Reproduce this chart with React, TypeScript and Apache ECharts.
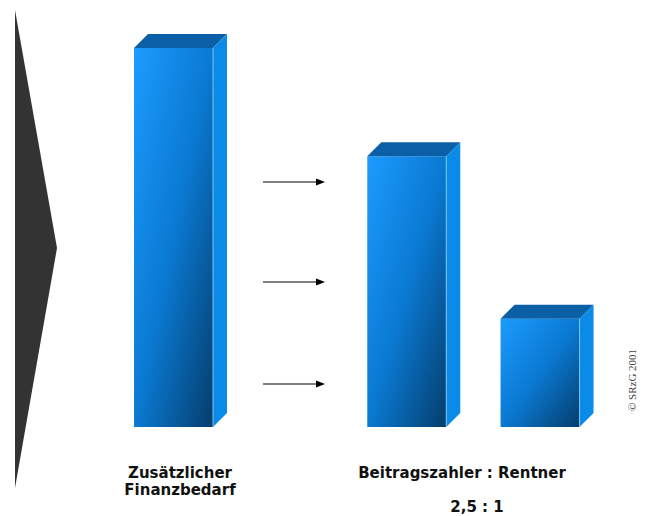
import React, { useEffect, useRef } from "react";
import * as echarts from "echarts";

// ---- data ----
const categories = ["Zusätzlicher Finanzbedarf", "Beitragszahler", "Rentner"];
const values = [3.5, 2.5, 1];
const groupLabel = "Beitragszahler : Rentner";
const ratioLabel = "2,5 : 1";
const copyright = "© SRzG 2001";

// layout slots along hidden x axis (not data)
const slots = [1, 8, 12];

export default function App() {
  const ref = useRef<HTMLDivElement>(null);
  useEffect(() => {
    document.body.style.margin = "0";
    const chart = echarts.init(ref.current!, null, { renderer: "svg" });
    const W = 79, D = 14, DY = 14;
    const arrowYs = [182, 282, 384];
    const arrows: any[] = [];
    arrowYs.forEach((y) => {
      arrows.push({
        type: "line",
        shape: { x1: 263, y1: y, x2: 318, y2: y },
        style: { stroke: "#000", lineWidth: 1 },
      });
      arrows.push({
        type: "polygon",
        shape: { points: [[316, y - 3.5], [325, y], [316, y + 3.5]] },
        style: { fill: "#000" },
      });
    });
    const font = "DejaVu Sans";
    chart.setOption({
      animation: false,
      backgroundColor: "#fff",
      grid: { left: 147.2, right: 39.3, top: 48, bottom: 89 },
      xAxis: { type: "value", min: 0, max: 14, show: false },
      yAxis: { type: "value", min: 0, max: 3.5, show: false },
      series: [
        {
          type: "custom",
          data: values.map((v, i) => [slots[i], v, categories[i]]),
          renderItem: (params: any, api: any) => {
            const x = api.value(0);
            const v = api.value(1);
            const base = api.coord([x, 0]);
            const top = api.coord([x, v]);
            const left = top[0] - (W + D) / 2;
            const t = top[1];
            const b = base[1];
            return {
              type: "group",
              children: [
                {
                  type: "rect",
                  shape: { x: left, y: t, width: W, height: b - t },
                  style: {
                    fill: new echarts.graphic.LinearGradient(0, 0, 1, 1, [
                      { offset: 0, color: "#1c9cff" },
                      { offset: 0.5, color: "#0a79d2" },
                      { offset: 1, color: "#053d6c" },
                    ]),
                  },
                },
                {
                  type: "polygon",
                  shape: {
                    points: [
                      [left, t],
                      [left + D, t - DY],
                      [left + W + D, t - DY],
                      [left + W, t],
                    ],
                  },
                  style: { fill: "#0a5fa6" },
                },
                {
                  type: "polygon",
                  shape: {
                    points: [
                      [left + W, t],
                      [left + W + D, t - DY],
                      [left + W + D, b - DY],
                      [left + W, b],
                    ],
                  },
                  style: { fill: "#0b8be8" },
                },
                {
                  type: "line",
                  shape: { x1: left + W, y1: t, x2: left + W, y2: b },
                  style: { stroke: "#7cc4f5", lineWidth: 1 },
                },
              ],
            };
          },
        },
      ],
      graphic: [
        {
          type: "polygon",
          shape: { points: [[15, 10], [57, 248], [15, 488]] },
          style: { fill: "#333333" },
        },
        ...arrows,
        {
          type: "text",
          x: 180,
          y: 464,
          style: {
            text: categories[0].replace(" ", "\n"),
            font: `bold 15px "${font}"`,
            fill: "#111",
            textAlign: "center",
            lineHeight: 17,
          },
        },
        {
          type: "text",
          x: 462,
          y: 464,
          style: {
            text: groupLabel,
            font: `bold 15px "${font}"`,
            fill: "#111",
            textAlign: "center",
            lineHeight: 17,
          },
        },
        {
          type: "text",
          x: 477,
          y: 498,
          style: {
            text: ratioLabel,
            font: `bold 15px "${font}"`,
            fill: "#111",
            textAlign: "center",
            lineHeight: 17,
          },
        },
        {
          type: "text",
          x: 632,
          y: 380,
          rotation: Math.PI / 2,
          style: {
            text: copyright,
            font: `11px "Liberation Serif"`,
            fill: "#444",
            textAlign: "center",
            textVerticalAlign: "middle",
          },
        },
      ],
    });
    return () => chart.dispose();
  }, []);
  return (
    <div
      ref={ref}
      style={{ position: "absolute", left: 0, top: 0, width: 653, height: 516 }}
    />
  );
}
